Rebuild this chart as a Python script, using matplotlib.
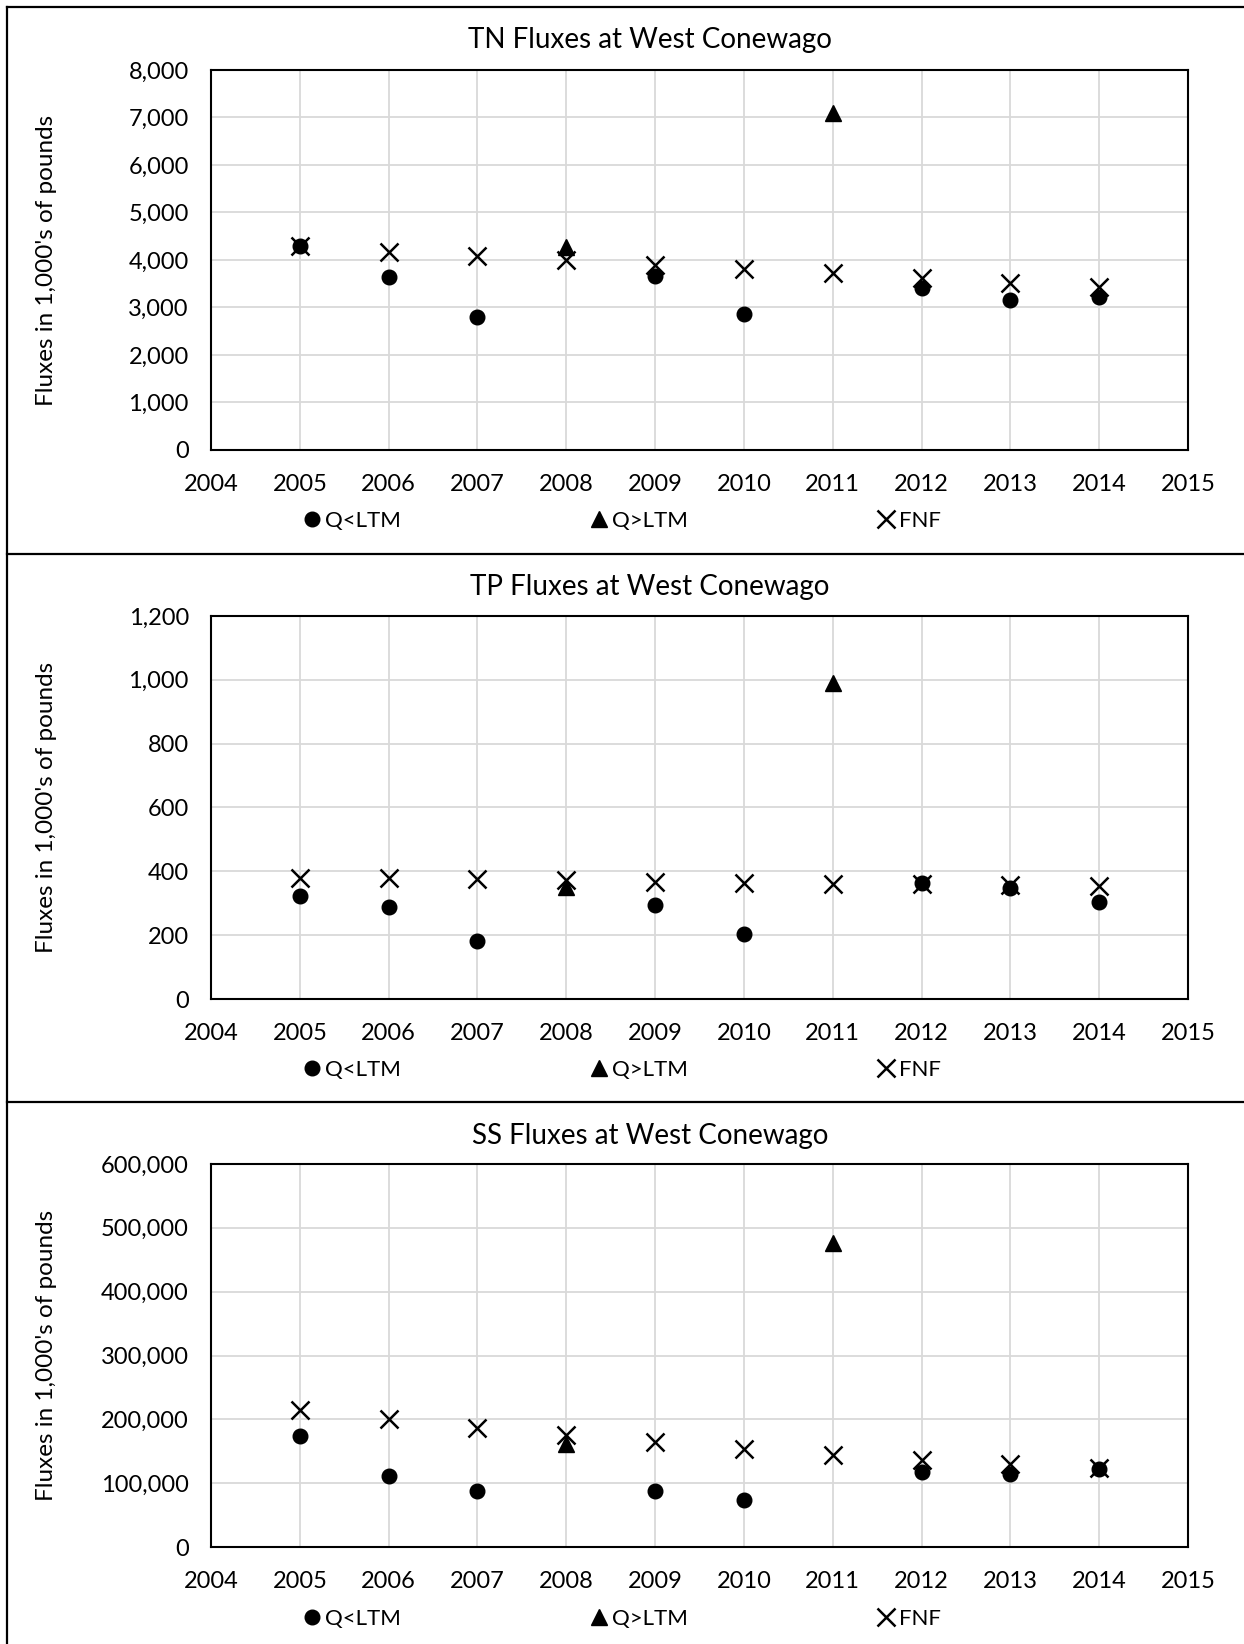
import matplotlib
matplotlib.use("Agg")
import matplotlib.pyplot as plt
from matplotlib.lines import Line2D

plt.rcParams['font.family'] = ['Lato', 'DejaVu Sans']

years = [2005, 2006, 2007, 2008, 2009, 2010, 2011, 2012, 2013, 2014]

# TN
tn_low_years = [2005, 2006, 2007, 2009, 2010, 2012, 2013, 2014]
tn_low = [4300, 3640, 2790, 3670, 2860, 3420, 3160, 3230]
tn_high_years = [2008, 2011]
tn_high = [4270, 7100]
tn_fnf = [4290, 4175, 4090, 3990, 3900, 3800, 3725, 3615, 3525, 3440]

# TP
tp_low_years = [2005, 2006, 2007, 2009, 2010, 2012, 2013, 2014]
tp_low = [322, 289, 183, 293, 203, 362, 348, 305]
tp_high_years = [2008, 2011]
tp_high = [350, 989]
tp_fnf = [380, 378, 376, 372, 367, 363, 361, 360, 357, 353]

# SS
ss_low_years = [2005, 2006, 2007, 2009, 2010, 2012, 2013, 2014]
ss_low = [174000, 111000, 88000, 88000, 74000, 117000, 114000, 122000]
ss_high_years = [2008, 2011]
ss_high = [162000, 477000]
ss_fnf = [214000, 200000, 187000, 175000, 164000, 154000, 144000, 136000, 130000, 124000]

titles = ["TN Fluxes at West Conewago", "TP Fluxes at West Conewago", "SS Fluxes at West Conewago"]
ylims = [(0, 8000, 1000), (0, 1200, 200), (0, 600000, 100000)]
ylabel = "Fluxes in 1,000's of pounds"
legend_labels = ["Q<LTM", "Q>LTM", "FNF"]
xticks = list(range(2004, 2016))

W, H = 1244, 1644
fig = plt.figure(figsize=(W / 100, H / 100), dpi=100)

def fx(px):
    return px / W

def fy(py):
    return 1 - py / H

ax_left, ax_right = 211, 1188
ax_tb = [(70, 450), (616, 999), (1164, 1547)]
title_y = [40, 587, 1136]
legend_y = [521, 1070, 1619]

datasets = [
    (tn_low_years, tn_low, tn_high_years, tn_high, tn_fnf),
    (tp_low_years, tp_low, tp_high_years, tp_high, tp_fnf),
    (ss_low_years, ss_low, ss_high_years, ss_high, ss_fnf),
]

for i, (ly, lv, hy, hv, fv) in enumerate(datasets):
    t, b = ax_tb[i]
    ax = fig.add_axes([fx(ax_left), fy(b), fx(ax_right - ax_left), (b - t) / H])
    ax.set_xlim(2004, 2015)
    lo, hi, step = ylims[i]
    ax.set_ylim(lo, hi)
    ax.set_xticks(xticks)
    ax.set_yticks(list(range(lo, hi + 1, step)))
    ax.set_yticklabels([f"{v:,}" for v in range(lo, hi + 1, step)])
    ax.tick_params(axis='both', length=0, labelsize=17, colors='black')
    ax.tick_params(axis='y', pad=16)
    ax.tick_params(axis='x', pad=17)
    ax.grid(True, color='#d9d9d9', linewidth=1.3)
    ax.set_axisbelow(True)
    for s in ax.spines.values():
        s.set_color('black')
        s.set_linewidth(1.5)
    h1, = ax.plot(ly, lv, linestyle='none', marker='o', color='black', markersize=10.5, zorder=3)
    h2, = ax.plot(hy, hv, linestyle='none', marker='^', color='black', markersize=11, zorder=3)
    h3, = ax.plot(years, fv, linestyle='none', marker='x', color='black', markersize=13,
                  markeredgewidth=1.8, zorder=4)
    fig.text(fx(650), fy(title_y[i]), titles[i], ha='center', va='center', fontsize=20)
    fig.text(fx(47), fy((t + b) / 2), ylabel, rotation=90, ha='center', va='center', fontsize=17.5)
    ax.legend([h1, h2, h3], legend_labels, ncol=3, frameon=False,
              loc='center left', bbox_to_anchor=(fx(303), fy(legend_y[i])),
              bbox_transform=fig.transFigure, fontsize=16, handlelength=0.8,
              handletextpad=0.2, columnspacing=8.5, borderpad=0, borderaxespad=0)

# panel borders
for y in [7, 554, 1102]:
    fig.add_artist(Line2D([fx(7), 1], [fy(y), fy(y)], color='black', linewidth=1.6))
fig.add_artist(Line2D([fx(7), fx(7)], [fy(7), 0], color='black', linewidth=1.6))

fig.savefig("out.png", dpi=100)
